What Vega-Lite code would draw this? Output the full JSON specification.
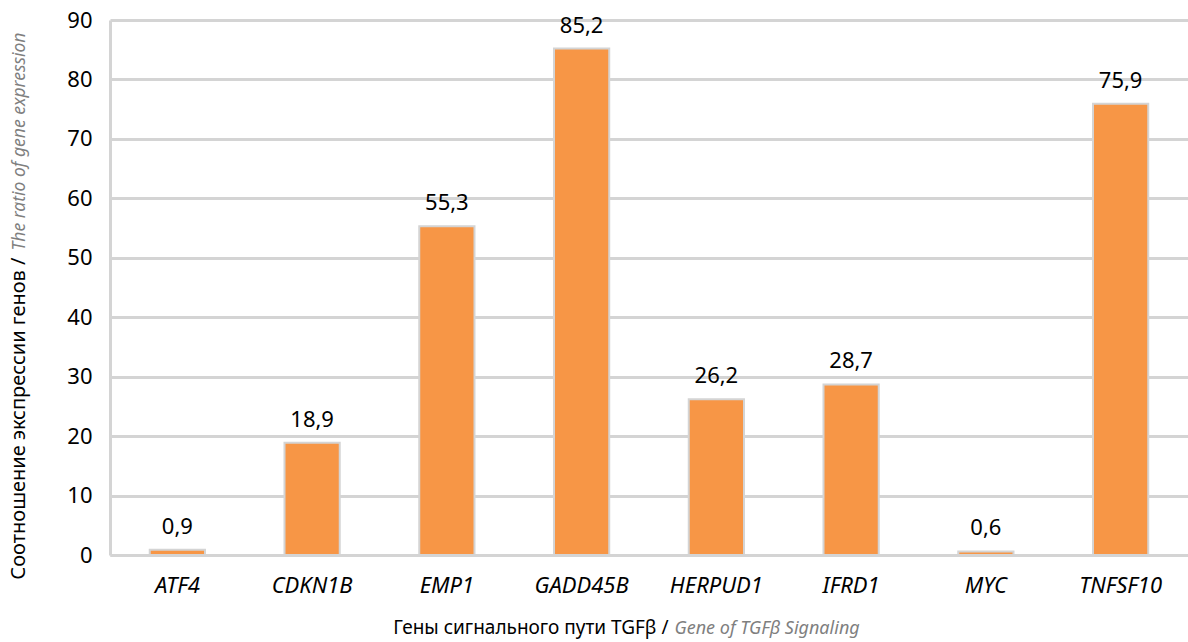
{
  "$schema": "https://vega.github.io/schema/vega-lite/v6.json",
  "autosize": "none",
  "width": 1078,
  "height": 535,
  "padding": {"left": 110, "top": 20, "right": 0, "bottom": 87},
  "background": "white",
  "config": {
    "view": {"stroke": null},
    "font": "Noto Sans",
    "locale": {"number": {"decimal": ",", "thousands": " ", "grouping": [3], "currency": ["", ""]}}
  },
  "data": {
    "values": [
      {"gene": "ATF4", "value": 0.9},
      {"gene": "CDKN1B", "value": 18.9},
      {"gene": "EMP1", "value": 55.3},
      {"gene": "GADD45B", "value": 85.2},
      {"gene": "HERPUD1", "value": 26.2},
      {"gene": "IFRD1", "value": 28.7},
      {"gene": "MYC", "value": 0.6},
      {"gene": "TNFSF10", "value": 75.9}
    ]
  },
  "layer": [
    {
      "mark": {"type": "bar", "color": "#F79646", "stroke": "#D4D4D4", "strokeWidth": 2},
      "encoding": {
        "x": {
          "field": "gene", "type": "nominal", "sort": null,
          "scale": {"paddingInner": 0.59, "paddingOuter": 0.295},
          "axis": {
            "orient": "bottom",
            "labelAngle": 0, "labelFont": "Noto Sans", "labelFontSize": 22, "labelFontStyle": "italic",
            "labelColor": "#000000", "labelPadding": 20, "ticks": false,
            "domainColor": "#D4D4D4", "domainWidth": 3,
            "title": "Гены сигнального пути TGFβ /",
            "titleFont": "Noto Sans", "titleFontSize": 19, "titleFontWeight": "normal", "titleColor": "#000000",
            "titleAlign": "right", "titleAnchor": null, "titleBaseline": "alphabetic",
            "titleX": 558, "titleY": 78
          }
        },
        "y": {
          "field": "value", "type": "quantitative",
          "scale": {"domain": [0, 90], "nice": false},
          "axis": {
            "orient": "left",
            "values": [0, 10, 20, 30, 40, 50, 60, 70, 80, 90],
            "labelFont": "Noto Sans", "labelFontSize": 22, "labelColor": "#000000", "labelPadding": 18,
            "ticks": false, "grid": true, "gridColor": "#D4D4D4", "gridWidth": 3,
            "domainColor": "#D4D4D4", "domainWidth": 3,
            "title": "Соотношение экспрессии генов /",
            "titleFont": "Noto Sans", "titleFontSize": 20, "titleFontWeight": "normal", "titleColor": "#000000",
            "titleAngle": 270, "titleAlign": "right", "titleAnchor": null, "titleBaseline": "alphabetic",
            "titleX": -86, "titleY": 237
          }
        }
      }
    },
    {
      "mark": {"type": "text", "baseline": "alphabetic", "dy": -16, "fontSize": 22, "font": "Noto Sans", "color": "#000000"},
      "encoding": {
        "x": {
          "field": "gene", "type": "nominal", "sort": null,
          "scale": {"paddingInner": 0.59, "paddingOuter": 0.295},
          "axis": {
            "orient": "bottom", "labels": false, "ticks": false, "domain": false, "grid": false,
            "title": "Gene of TGFβ Signaling",
            "titleFont": "Noto Sans", "titleFontSize": 18, "titleFontWeight": "normal", "titleFontStyle": "italic",
            "titleColor": "#7F7F7F",
            "titleAlign": "left", "titleAnchor": null, "titleBaseline": "alphabetic",
            "titleX": 564, "titleY": 78
          }
        },
        "y": {
          "field": "value", "type": "quantitative",
          "scale": {"domain": [0, 90], "nice": false},
          "axis": {
            "orient": "left", "labels": false, "ticks": false, "domain": false, "grid": false,
            "title": "The ratio of gene expression",
            "titleFont": "Noto Sans", "titleFontSize": 17.5, "titleFontWeight": "normal", "titleFontStyle": "italic",
            "titleColor": "#7F7F7F",
            "titleAngle": 270, "titleAlign": "left", "titleAnchor": null, "titleBaseline": "alphabetic",
            "titleX": -86, "titleY": 230
          }
        },
        "text": {"field": "value", "type": "quantitative", "format": ".1f"}
      }
    }
  ],
  "resolve": {"scale": {"x": "independent", "y": "independent"}, "axis": {"x": "independent", "y": "independent"}}
}
